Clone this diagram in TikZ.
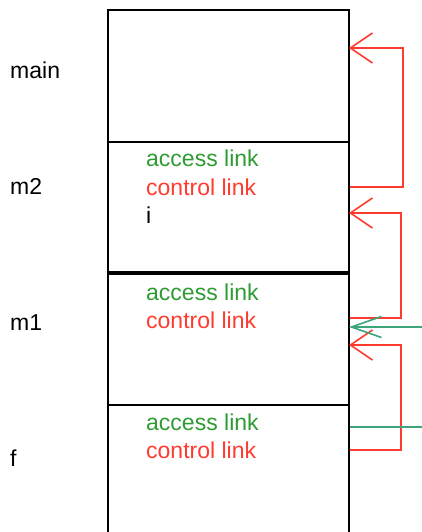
\documentclass[tikz,border=0pt]{standalone}
\usepackage{fontspec}
\setmainfont{Liberation Sans}
\usetikzlibrary{arrows.meta}
\definecolor{linkred}{HTML}{FF3B2F}
\definecolor{textgreen}{HTML}{2E9B33}
\definecolor{arrowgreen}{HTML}{3DA57A}
\tikzset{
  frame/.style={draw,line width=1.6pt,minimum width=241pt,minimum height=#1,
    anchor=north west,inner sep=0pt},
  lbl/.style={anchor=west,inner sep=0pt,font=\fontsize{23}{28}\selectfont},
  ctl/.style={linkred,line width=1.6pt,-{Straight Barb[length=22pt,width=30pt]}},
  acc/.style={arrowgreen,line width=1.6pt},
}
\begin{document}
\begin{tikzpicture}[x=1pt,y=-1pt]
  \useasboundingbox (0,0) rectangle (422,532);
  % activation records
  \node[frame=132pt] (main) at (107,9) {};
  \node[frame=130pt] (m2) at (107,141) {};
  \node[frame=131pt] (m1) at (107,273) {};
  \node[frame=160pt] (f) at (107,404) {};
  % record names
  \node[lbl] (mainname) at (10,70) {main};
  \node[lbl] (m2name) at (10,186) {m2};
  \node[lbl] (m1name) at (10,323) {m1};
  \node[lbl] (fname) at (10,458) {f};
  % fields
  \node[lbl,textgreen] (m2acc) at (146,158) {access link};
  \node[lbl,linkred] (m2ctl) at (146,187) {control link};
  \node[lbl] (m2i) at (146,215) {i};
  \node[lbl,textgreen] (m1acc) at (146,292) {access link};
  \node[lbl,linkred] (m1ctl) at (146,320) {control link};
  \node[lbl,textgreen] (facc) at (146,422) {access link};
  \node[lbl,linkred] (fctl) at (146,450) {control link};
  % control links
  \coordinate (bendmain) at (403,48);
  \coordinate (inmain) at (349,48);
  \coordinate (bendm2) at (401,213);
  \coordinate (inm2) at (349,213);
  \coordinate (bendm1) at (401,345);
  \coordinate (inm1) at (349,345);
  \draw[ctl] (m2.east |- m2ctl) -| (bendmain) -- (inmain);
  \draw[ctl] (m1.east |- 0,318) -| (bendm2) -- (inm2);
  \draw[ctl] (f.east |- fctl) -| (bendm1) -- (inm1);
  % access links
  \coordinate (accin) at (349,327);
  \coordinate (accfrom) at (426,327);
  \coordinate (accout) at (426,427);
  \draw[acc,-{Straight Barb[length=30pt,width=21pt]}] (accfrom) -- (accin);
  \draw[acc] (f.east |- accout) -- (accout);
\end{tikzpicture}
\end{document}
